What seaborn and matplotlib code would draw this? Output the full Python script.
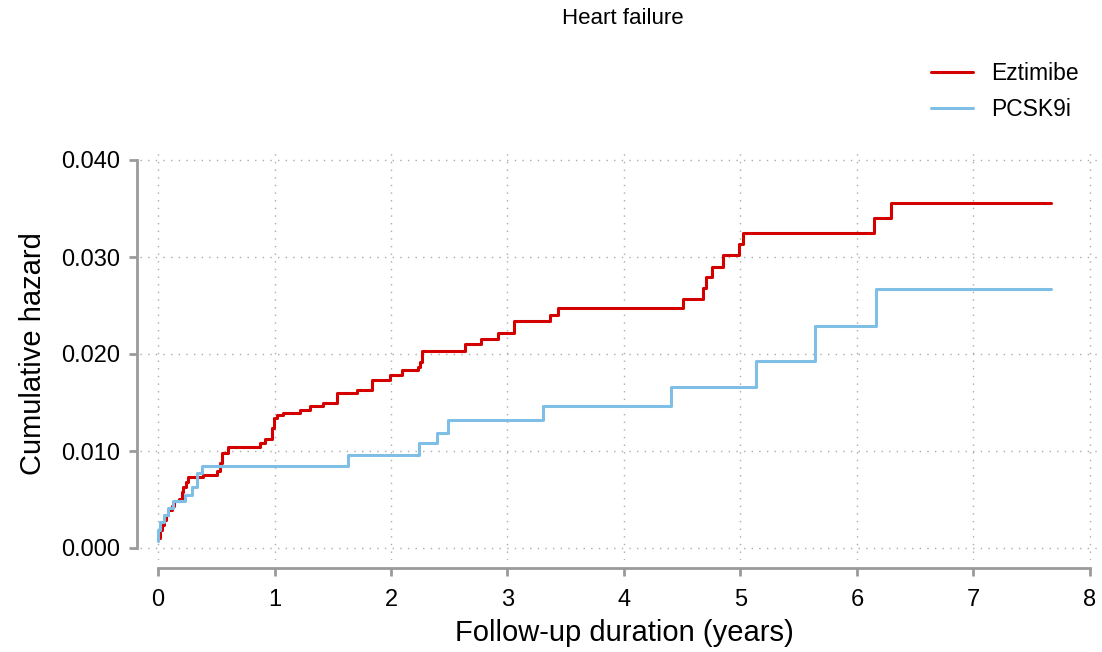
import numpy as np
import pandas as pd
import matplotlib
matplotlib.use("Agg")
import matplotlib.pyplot as plt
import seaborn as sns
from matplotlib.lines import Line2D

# ---- data ----
ezt_time = [0.0, 0.017, 0.032, 0.052, 0.069, 0.086, 0.118, 0.137, 0.183, 0.203,
            0.217, 0.240, 0.260, 0.386, 0.506, 0.532, 0.549, 0.600, 0.876, 0.918,
            0.976, 0.996, 1.020, 1.073, 1.219, 1.305, 1.416, 1.536, 1.708, 1.837,
            1.991, 2.094, 2.232, 2.250, 2.264, 2.635, 2.770, 2.916, 3.056, 3.365,
            3.436, 4.504, 4.676, 4.700, 4.753, 4.852, 4.990, 5.019, 6.146, 6.292,
            7.663]
ezt_haz = [0.00103, 0.00186, 0.00237, 0.00289, 0.00340, 0.00390, 0.00430, 0.00480,
           0.00510, 0.00580, 0.00630, 0.00680, 0.00730, 0.00750, 0.00790, 0.00880,
           0.00980, 0.01044, 0.01086, 0.01120, 0.01240, 0.01340, 0.01370, 0.01389,
           0.01423, 0.01464, 0.01492, 0.01595, 0.01629, 0.01732, 0.01784, 0.01835,
           0.01869, 0.01920, 0.02030, 0.02100, 0.02152, 0.02220, 0.02340, 0.02400,
           0.02477, 0.02567, 0.02677, 0.02790, 0.02900, 0.03020, 0.03130, 0.03244,
           0.03405, 0.03560, 0.03560]

pcsk_time = [0.0, 0.003, 0.017, 0.052, 0.086, 0.129, 0.232, 0.289, 0.332, 0.375,
             1.628, 2.243, 2.392, 2.492, 3.307, 4.401, 5.133, 5.640, 6.163, 7.663]
pcsk_haz = [0.00070, 0.00186, 0.00270, 0.00340, 0.00410, 0.00480, 0.00546, 0.00630,
            0.00770, 0.00845, 0.00960, 0.01080, 0.01190, 0.01320, 0.01467, 0.01663,
            0.01930, 0.02290, 0.02667, 0.02667]

groups = ["Eztimibe", "PCSK9i"]
colors = {"Eztimibe": "#d40000", "PCSK9i": "#7fbfe6"}
x_ticks = [0, 1, 2, 3, 4, 5, 6, 7, 8]
y_ticks = [0.000, 0.010, 0.020, 0.030, 0.040]
y_tick_labels = ["0.000", "0.010", "0.020", "0.030", "0.040"]

df = pd.concat([
    pd.DataFrame({"time": ezt_time, "hazard": ezt_haz, "group": "Eztimibe"}),
    pd.DataFrame({"time": pcsk_time, "hazard": pcsk_haz, "group": "PCSK9i"}),
], ignore_index=True)

sns.set_style("white")
plt.rcParams["font.family"] = ["Liberation Sans", "DejaVu Sans"]
plt.rcParams["text.color"] = "black"
plt.rcParams["axes.labelcolor"] = "black"

W, H = 1102, 652
fig = plt.figure(figsize=(W / 100, H / 100), dpi=100)
# axes box in pixel coords (left, top, right, bottom)
L, T, R, B = 140, 150, 1100, 560
ax = fig.add_axes([L / W, 1 - B / H, (R - L) / W, (B - T) / H])

sns.lineplot(data=df, x="time", y="hazard", hue="group", hue_order=groups,
             palette=colors, estimator=None, sort=False, drawstyle="steps-post",
             linewidth=2.2, ax=ax, legend=False)

# limits matching pixel mapping: x0=158px, 1yr=116.5px; y0=548px, 0.01=97px
ax.set_xlim((L - 158) / 116.5, (R - 158) / 116.5)
ax.set_ylim((548 - B) / 9700, (548 - T) / 9700)

ax.set_xticks(x_ticks)
ax.set_yticks(y_ticks)
ax.set_yticklabels(y_tick_labels)
ax.grid(True, color="#aaaaaa", linestyle=(0, (1, 4.5)), linewidth=1.0)
ax.set_axisbelow(True)

for s in ["top", "right"]:
    ax.spines[s].set_visible(False)
gray = "#9a9a9a"
ax.spines["left"].set_position(("outward", 3 * 0.72))
ax.spines["bottom"].set_position(("outward", 8 * 0.72))
ax.spines["left"].set_bounds(0, 0.04)
ax.spines["bottom"].set_bounds(0, 8)
for s in ["left", "bottom"]:
    ax.spines[s].set_color(gray)
    ax.spines[s].set_linewidth(2.0)
ax.tick_params(axis="both", direction="out", length=6, width=2.0, color=gray,
               labelsize=17, labelcolor="black", left=True, bottom=True)
ax.tick_params(axis="y", pad=6)
ax.tick_params(axis="x", pad=9)

ax.set_xlabel("Follow-up duration (years)", fontsize=21)
ax.set_ylabel("Cumulative hazard", fontsize=21)
ax.xaxis.label.set_va("center")
ax.yaxis.label.set_va("center")
ax.xaxis.set_label_coords((624 - L) / (R - L), (B - 633) / (B - T), transform=ax.transAxes)
ax.yaxis.set_label_coords((33 - L) / (R - L), (B - 354) / (B - T), transform=ax.transAxes)

fig.text(623 / W, 1 - 19 / H, "Heart failure", ha="center", va="center", fontsize=16)

handles = [Line2D([], [], color=colors[g], linewidth=2.2) for g in groups]
fig.legend(handles, groups, loc="upper right", bbox_to_anchor=(1079 / W, 1 - 62 / H),
           frameon=False, fontsize=16.5, handlelength=1.85, handletextpad=0.8,
           labelspacing=0.55, borderaxespad=0, borderpad=0)

fig.savefig("out.png", dpi=100)
